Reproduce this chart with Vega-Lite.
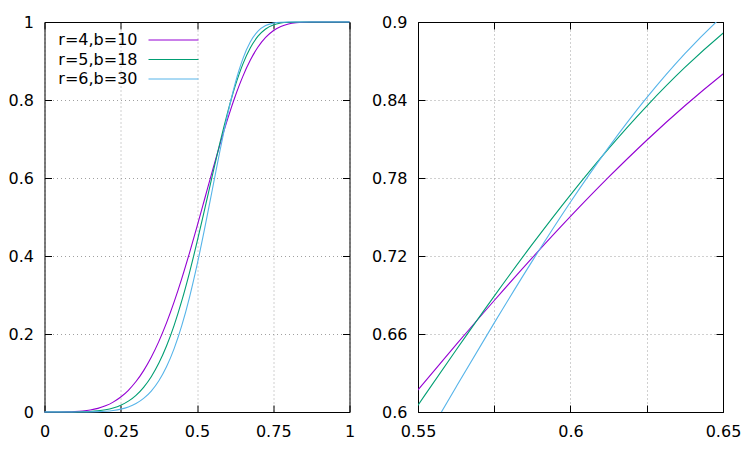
{
  "$schema": "https://vega.github.io/schema/vega-lite/v6.json",
  "padding": {"left": 7.5, "top": 14, "right": 5, "bottom": 5},
  "background": "white",
  "config": {
    "font": "DejaVu Sans",
    "view": {"stroke": null},
    "axis": {
      "title": null,
      "labelExpr": "datum.value + ''",
      "labelFontSize": 16,
      "labelColor": "black",
      "labelFont": "DejaVu Sans",
      "domainColor": "black",
      "domainWidth": 1,
      "tickColor": "black",
      "tickWidth": 1,
      "tickSize": -7,
      "gridColor": "#a0a0a0",
      "gridDash": [1, 3],
      "gridWidth": 1,
      "gridOpacity": 1,
      "labelFlush": false,
      "labelOverlap": false
    },
    "axisX": {"labelPadding": 18},
    "axisY": {"labelPadding": 18},
    "legend": {
      "orient": "none",
      "legendX": 121,
      "legendY": 10,
      "title": null,
      "symbolType": "M-10,0H10",
      "symbolSize": 25,
      "symbolStrokeWidth": 1,
      "labelAlign": "right",
      "labelOffset": -44,
      "labelFontSize": 16,
      "labelColor": "black",
      "labelFont": "DejaVu Sans",
      "rowPadding": 3.5,
      "padding": 0
    }
  },
  "data": {
    "values": [
      {"s": 0, "k": "r=4,b=10", "p": 0}, {"s": 0, "k": "r=5,b=18", "p": 0}, {"s": 0, "k": "r=6,b=30", "p": 0},
      {"s": 0.025, "k": "r=4,b=10", "p": 0.000004}, {"s": 0.025, "k": "r=5,b=18", "p": 0}, {"s": 0.025, "k": "r=6,b=30", "p": 0},
      {"s": 0.05, "k": "r=4,b=10", "p": 0.00006}, {"s": 0.05, "k": "r=5,b=18", "p": 0.00001}, {"s": 0.05, "k": "r=6,b=30", "p": 0},
      {"s": 0.075, "k": "r=4,b=10", "p": 0.00032}, {"s": 0.075, "k": "r=5,b=18", "p": 0.00004}, {"s": 0.075, "k": "r=6,b=30", "p": 0.00001},
      {"s": 0.1, "k": "r=4,b=10", "p": 0.001}, {"s": 0.1, "k": "r=5,b=18", "p": 0.00018}, {"s": 0.1, "k": "r=6,b=30", "p": 0.00003},
      {"s": 0.125, "k": "r=4,b=10", "p": 0.00244}, {"s": 0.125, "k": "r=5,b=18", "p": 0.00055}, {"s": 0.125, "k": "r=6,b=30", "p": 0.00011},
      {"s": 0.15, "k": "r=4,b=10", "p": 0.00505}, {"s": 0.15, "k": "r=5,b=18", "p": 0.00137}, {"s": 0.15, "k": "r=6,b=30", "p": 0.00034},
      {"s": 0.175, "k": "r=4,b=10", "p": 0.00934}, {"s": 0.175, "k": "r=5,b=18", "p": 0.00295}, {"s": 0.175, "k": "r=6,b=30", "p": 0.00086},
      {"s": 0.2, "k": "r=4,b=10", "p": 0.01589}, {"s": 0.2, "k": "r=5,b=18", "p": 0.00574}, {"s": 0.2, "k": "r=6,b=30", "p": 0.00192},
      {"s": 0.225, "k": "r=4,b=10", "p": 0.02534}, {"s": 0.225, "k": "r=5,b=18", "p": 0.01033}, {"s": 0.225, "k": "r=6,b=30", "p": 0.00389},
      {"s": 0.25, "k": "r=4,b=10", "p": 0.03838}, {"s": 0.25, "k": "r=5,b=18", "p": 0.01743}, {"s": 0.25, "k": "r=6,b=30", "p": 0.0073},
      {"s": 0.275, "k": "r=4,b=10", "p": 0.05574}, {"s": 0.275, "k": "r=5,b=18", "p": 0.02793}, {"s": 0.275, "k": "r=6,b=30", "p": 0.01289},
      {"s": 0.3, "k": "r=4,b=10", "p": 0.07811}, {"s": 0.3, "k": "r=5,b=18", "p": 0.04285}, {"s": 0.3, "k": "r=6,b=30", "p": 0.02164},
      {"s": 0.325, "k": "r=4,b=10", "p": 0.10613}, {"s": 0.325, "k": "r=5,b=18", "p": 0.06329}, {"s": 0.325, "k": "r=6,b=30", "p": 0.03476},
      {"s": 0.35, "k": "r=4,b=10", "p": 0.14032}, {"s": 0.35, "k": "r=5,b=18", "p": 0.09044}, {"s": 0.35, "k": "r=6,b=30", "p": 0.0537},
      {"s": 0.375, "k": "r=4,b=10", "p": 0.18105}, {"s": 0.375, "k": "r=5,b=18", "p": 0.1254}, {"s": 0.375, "k": "r=6,b=30", "p": 0.08015},
      {"s": 0.4, "k": "r=4,b=10", "p": 0.22843}, {"s": 0.4, "k": "r=5,b=18", "p": 0.16912}, {"s": 0.4, "k": "r=6,b=30", "p": 0.11585},
      {"s": 0.425, "k": "r=4,b=10", "p": 0.2823}, {"s": 0.425, "k": "r=5,b=18", "p": 0.22223}, {"s": 0.425, "k": "r=6,b=30", "p": 0.16248},
      {"s": 0.45, "k": "r=4,b=10", "p": 0.3421}, {"s": 0.45, "k": "r=5,b=18", "p": 0.28484}, {"s": 0.45, "k": "r=6,b=30", "p": 0.22132},
      {"s": 0.475, "k": "r=4,b=10", "p": 0.40695}, {"s": 0.475, "k": "r=5,b=18", "p": 0.35635}, {"s": 0.475, "k": "r=6,b=30", "p": 0.29289},
      {"s": 0.5, "k": "r=4,b=10", "p": 0.47554}, {"s": 0.5, "k": "r=5,b=18", "p": 0.43531}, {"s": 0.5, "k": "r=6,b=30", "p": 0.37653},
      {"s": 0.525, "k": "r=4,b=10", "p": 0.5462}, {"s": 0.525, "k": "r=5,b=18", "p": 0.51935}, {"s": 0.525, "k": "r=6,b=30", "p": 0.46997},
      {"s": 0.55, "k": "r=4,b=10", "p": 0.61698}, {"s": 0.55, "k": "r=5,b=18", "p": 0.60526}, {"s": 0.55, "k": "r=6,b=30", "p": 0.56921},
      {"s": 0.5625, "k": "r=4,b=10", "p": 0.65176}, {"s": 0.5625, "k": "r=5,b=18", "p": 0.64772}, {"s": 0.5625, "k": "r=6,b=30", "p": 0.61928},
      {"s": 0.575, "k": "r=4,b=10", "p": 0.68577}, {"s": 0.575, "k": "r=5,b=18", "p": 0.68917}, {"s": 0.575, "k": "r=6,b=30", "p": 0.66857},
      {"s": 0.5875, "k": "r=4,b=10", "p": 0.71874}, {"s": 0.5875, "k": "r=5,b=18", "p": 0.72913}, {"s": 0.5875, "k": "r=6,b=30", "p": 0.71625},
      {"s": 0.6, "k": "r=4,b=10", "p": 0.75043}, {"s": 0.6, "k": "r=5,b=18", "p": 0.76709}, {"s": 0.6, "k": "r=6,b=30", "p": 0.7615},
      {"s": 0.6125, "k": "r=4,b=10", "p": 0.7806}, {"s": 0.6125, "k": "r=5,b=18", "p": 0.80263}, {"s": 0.6125, "k": "r=6,b=30", "p": 0.80354},
      {"s": 0.625, "k": "r=4,b=10", "p": 0.80904}, {"s": 0.625, "k": "r=5,b=18", "p": 0.83537}, {"s": 0.625, "k": "r=6,b=30", "p": 0.84176},
      {"s": 0.6375, "k": "r=4,b=10", "p": 0.83556}, {"s": 0.6375, "k": "r=5,b=18", "p": 0.86502}, {"s": 0.6375, "k": "r=6,b=30", "p": 0.87563},
      {"s": 0.65, "k": "r=4,b=10", "p": 0.86003}, {"s": 0.65, "k": "r=5,b=18", "p": 0.89138}, {"s": 0.65, "k": "r=6,b=30", "p": 0.90486},
      {"s": 0.675, "k": "r=4,b=10", "p": 0.90239}, {"s": 0.675, "k": "r=5,b=18", "p": 0.93396}, {"s": 0.675, "k": "r=6,b=30", "p": 0.94925},
      {"s": 0.7, "k": "r=4,b=10", "p": 0.9358}, {"s": 0.7, "k": "r=5,b=18", "p": 0.96356}, {"s": 0.7, "k": "r=6,b=30", "p": 0.9766},
      {"s": 0.725, "k": "r=4,b=10", "p": 0.96058}, {"s": 0.725, "k": "r=5,b=18", "p": 0.98211}, {"s": 0.725, "k": "r=6,b=30", "p": 0.99097},
      {"s": 0.75, "k": "r=4,b=10", "p": 0.97772}, {"s": 0.75, "k": "r=5,b=18", "p": 0.99237}, {"s": 0.75, "k": "r=6,b=30", "p": 0.9972},
      {"s": 0.775, "k": "r=4,b=10", "p": 0.9886}, {"s": 0.775, "k": "r=5,b=18", "p": 0.99727}, {"s": 0.775, "k": "r=6,b=30", "p": 0.99934},
      {"s": 0.8, "k": "r=4,b=10", "p": 0.99485}, {"s": 0.8, "k": "r=5,b=18", "p": 0.99921}, {"s": 0.8, "k": "r=6,b=30", "p": 0.99989},
      {"s": 0.825, "k": "r=4,b=10", "p": 0.99802}, {"s": 0.825, "k": "r=5,b=18", "p": 0.99983}, {"s": 0.825, "k": "r=6,b=30", "p": 0.99999},
      {"s": 0.85, "k": "r=4,b=10", "p": 0.99938}, {"s": 0.85, "k": "r=5,b=18", "p": 0.99997}, {"s": 0.85, "k": "r=6,b=30", "p": 1},
      {"s": 0.875, "k": "r=4,b=10", "p": 0.99985}, {"s": 0.875, "k": "r=5,b=18", "p": 1}, {"s": 0.875, "k": "r=6,b=30", "p": 1},
      {"s": 0.9, "k": "r=4,b=10", "p": 0.99998}, {"s": 0.9, "k": "r=5,b=18", "p": 1}, {"s": 0.9, "k": "r=6,b=30", "p": 1},
      {"s": 0.925, "k": "r=4,b=10", "p": 1}, {"s": 0.925, "k": "r=5,b=18", "p": 1}, {"s": 0.925, "k": "r=6,b=30", "p": 1},
      {"s": 0.95, "k": "r=4,b=10", "p": 1}, {"s": 0.95, "k": "r=5,b=18", "p": 1}, {"s": 0.95, "k": "r=6,b=30", "p": 1},
      {"s": 0.975, "k": "r=4,b=10", "p": 1}, {"s": 0.975, "k": "r=5,b=18", "p": 1}, {"s": 0.975, "k": "r=6,b=30", "p": 1},
      {"s": 1, "k": "r=4,b=10", "p": 1}, {"s": 1, "k": "r=5,b=18", "p": 1}, {"s": 1, "k": "r=6,b=30", "p": 1}
    ]
  },
  "spacing": 15.5,
  "hconcat": [
    {
      "width": 305,
      "height": 390,
      "layer": [
        {
          "mark": {"type": "line", "strokeWidth": 1.1, "interpolate": "monotone"},
          "encoding": {
            "x": {"field": "s", "type": "quantitative",
                  "scale": {"domain": [0, 1], "nice": false, "zero": false},
                  "axis": {"orient": "bottom", "values": [0, 0.25, 0.5, 0.75, 1], "grid": true}},
            "y": {"field": "p", "type": "quantitative",
                  "scale": {"domain": [0, 1], "nice": false, "zero": false},
                  "axis": {"orient": "left", "values": [0, 0.2, 0.4, 0.6, 0.8, 1], "grid": true}},
            "color": {"field": "k", "type": "nominal",
                      "scale": {"domain": ["r=4,b=10", "r=5,b=18", "r=6,b=30"], "range": ["#9400d3", "#009e73", "#56b4e9"]}}
          }
        },
        {
          "mark": {"type": "point", "opacity": 0, "size": 0, "strokeWidth": 0},
          "encoding": {
            "x": {"field": "s", "type": "quantitative",
                  "scale": {"domain": [0, 1], "nice": false, "zero": false},
                  "axis": {"orient": "top", "values": [0, 0.25, 0.5, 0.75, 1], "labels": false, "grid": false}},
            "y": {"field": "p", "type": "quantitative",
                  "scale": {"domain": [0, 1], "nice": false, "zero": false},
                  "axis": {"orient": "right", "values": [0, 0.2, 0.4, 0.6, 0.8, 1], "labels": false, "grid": false}}
          }
        }
      ],
      "resolve": {"axis": {"x": "independent", "y": "independent"}}
    },
    {
      "width": 305,
      "height": 390,
      "layer": [
        {
          "mark": {"type": "line", "strokeWidth": 1.1, "interpolate": "monotone", "clip": true},
          "encoding": {
            "x": {"field": "s", "type": "quantitative",
                  "scale": {"domain": [0.55, 0.65], "nice": false, "zero": false},
                  "axis": {"orient": "bottom", "values": [0.55, 0.575, 0.6, 0.625, 0.65], "grid": true,
                           "labelExpr": "datum.value == 0.575 || datum.value == 0.625 ? '' : datum.value + ''"}},
            "y": {"field": "p", "type": "quantitative",
                  "scale": {"domain": [0.6, 0.9], "nice": false, "zero": false},
                  "axis": {"orient": "left", "values": [0.6, 0.66, 0.72, 0.78, 0.84, 0.9], "grid": true}},
            "color": {"field": "k", "type": "nominal",
                      "scale": {"domain": ["r=4,b=10", "r=5,b=18", "r=6,b=30"], "range": ["#9400d3", "#009e73", "#56b4e9"]}}
          }
        },
        {
          "mark": {"type": "point", "opacity": 0, "size": 0, "strokeWidth": 0, "clip": true},
          "encoding": {
            "x": {"field": "s", "type": "quantitative",
                  "scale": {"domain": [0.55, 0.65], "nice": false, "zero": false},
                  "axis": {"orient": "top", "values": [0.55, 0.575, 0.6, 0.625, 0.65], "labels": false, "grid": false}},
            "y": {"field": "p", "type": "quantitative",
                  "scale": {"domain": [0.6, 0.9], "nice": false, "zero": false},
                  "axis": {"orient": "right", "values": [0.6, 0.66, 0.72, 0.78, 0.84, 0.9], "labels": false, "grid": false}}
          }
        }
      ],
      "resolve": {"axis": {"x": "independent", "y": "independent"}}
    }
  ]
}
